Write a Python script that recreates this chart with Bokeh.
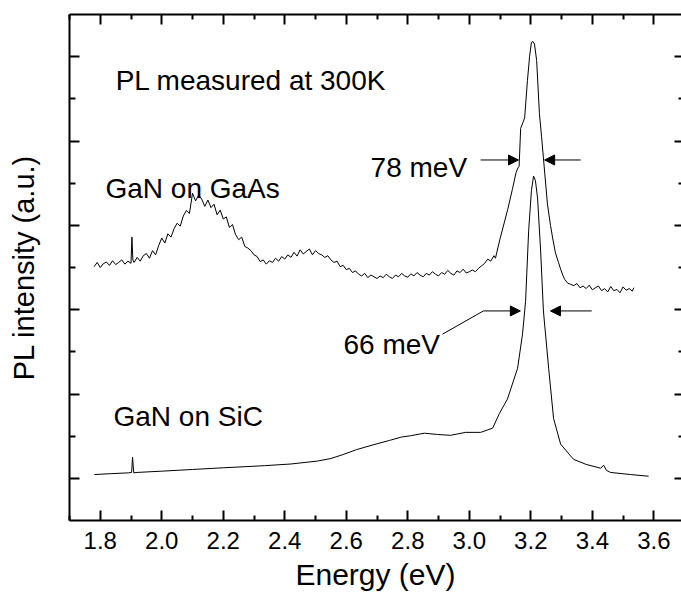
from bokeh.plotting import figure
from bokeh.models import (LinearAxis, FixedTicker, PrintfTickFormatter, Range1d,
                          Arrow, NormalHead, Label, CustomJSTickFormatter)
from bokeh.embed import file_html
from bokeh.resources import INLINE

FONT = "Liberation Sans"

# ---- data ----
gaas_energy = [
    1.78, 1.79, 1.80, 1.81, 1.82, 1.83, 1.84, 1.85, 1.86, 1.87,
    1.88, 1.89, 1.90, 1.903, 1.906, 1.91, 1.92, 1.93, 1.94, 1.95,
    1.96, 1.97, 1.98, 1.99, 2.00, 2.01, 2.02, 2.03, 2.04, 2.05,
    2.06, 2.07, 2.08, 2.09, 2.10, 2.11, 2.12, 2.13, 2.14, 2.15,
    2.16, 2.17, 2.18, 2.19, 2.20, 2.21, 2.22, 2.23, 2.24, 2.25,
    2.26, 2.27, 2.28, 2.29, 2.30, 2.31, 2.32, 2.33, 2.34, 2.35,
    2.36, 2.37, 2.38, 2.39, 2.40, 2.41, 2.42, 2.43, 2.44, 2.45,
    2.46, 2.47, 2.48, 2.49, 2.50, 2.51, 2.52, 2.53, 2.54, 2.55,
    2.56, 2.57, 2.58, 2.59, 2.60, 2.61, 2.62, 2.63, 2.64, 2.65,
    2.66, 2.67, 2.68, 2.69, 2.70, 2.71, 2.72, 2.73, 2.74, 2.75,
    2.76, 2.77, 2.78, 2.79, 2.80, 2.81, 2.82, 2.83, 2.84, 2.85,
    2.86, 2.87, 2.88, 2.89, 2.90, 2.91, 2.92, 2.93, 2.94, 2.95,
    2.96, 2.97, 2.98, 2.99, 3.00, 3.01, 3.02, 3.03, 3.04, 3.05,
    3.06, 3.07, 3.08, 3.085, 3.10, 3.115, 3.125, 3.14, 3.152, 3.158,
    3.162, 3.167, 3.175, 3.180, 3.189, 3.196, 3.202, 3.207, 3.212, 3.219,
    3.228, 3.235, 3.241, 3.254, 3.264, 3.271, 3.280, 3.290, 3.297, 3.305,
    3.31, 3.32, 3.33, 3.34, 3.35, 3.36, 3.37, 3.38, 3.39, 3.40,
    3.41, 3.42, 3.43, 3.44, 3.45, 3.46, 3.47, 3.48, 3.49, 3.50,
    3.51, 3.52, 3.53, 3.535]
gaas_pl = [
    6.02, 6.12, 6.00, 6.09, 6.13, 6.05, 6.16, 6.07, 6.12, 6.18,
    6.08, 6.15, 6.10, 6.72, 6.18, 6.12, 6.24, 6.15, 6.28, 6.33,
    6.22, 6.40, 6.30, 6.52, 6.70, 6.58, 6.80, 6.72, 6.92, 7.05,
    6.98, 7.22, 7.35, 7.28, 7.76, 7.58, 7.72, 7.62, 7.45, 7.60,
    7.42, 7.50, 7.25, 7.36, 7.15, 7.20, 6.95, 7.02, 6.78, 6.66,
    6.72, 6.50, 6.46, 6.40, 6.30, 6.26, 6.14, 6.18, 6.08, 6.16,
    6.12, 6.22, 6.15, 6.26, 6.20, 6.30, 6.24, 6.36, 6.27, 6.42,
    6.32, 6.38, 6.44, 6.30, 6.40, 6.33, 6.30, 6.24, 6.28, 6.18,
    6.12, 6.15, 6.02, 6.05, 5.95, 5.98, 5.88, 5.92, 5.84, 5.80,
    5.86, 5.76, 5.82, 5.78, 5.74, 5.80, 5.76, 5.84, 5.78, 5.74,
    5.82, 5.78, 5.86, 5.80, 5.77, 5.85, 5.80, 5.88, 5.82, 5.78,
    5.86, 5.82, 5.90, 5.84, 5.80, 5.88, 5.84, 5.93, 5.86, 5.82,
    5.92, 5.88, 5.96, 5.87, 5.90, 5.94, 5.90, 5.98, 6.04, 6.10,
    6.20, 6.15, 6.28, 6.22, 6.68, 7.10, 7.38, 7.85, 8.25, 8.36,
    8.40, 9.30, 9.45, 9.55, 10.43, 11.00, 11.34, 11.36, 11.30, 10.91,
    9.65, 9.10, 8.60, 7.51, 7.00, 6.70, 6.35, 6.12, 5.96, 5.80,
    5.72, 5.63, 5.60, 5.57, 5.62, 5.52, 5.56, 5.50, 5.58, 5.47,
    5.52, 5.56, 5.45, 5.50, 5.42, 5.55, 5.45, 5.48, 5.40, 5.54,
    5.46, 5.50, 5.44, 5.52]

sic_energy = [
    1.781, 1.833, 1.892, 1.902, 1.905, 1.909, 1.92, 2.00, 2.10, 2.20,
    2.334, 2.42, 2.507, 2.55, 2.588, 2.633, 2.69, 2.741, 2.78, 2.809,
    2.854, 2.897, 2.939, 2.988, 3.037, 3.076, 3.098, 3.124, 3.157, 3.173,
    3.183, 3.193, 3.202, 3.209, 3.215, 3.222, 3.232, 3.241, 3.258, 3.274,
    3.297, 3.339, 3.38, 3.427, 3.437, 3.446, 3.459, 3.524, 3.583]
sic_pl = [
    1.09, 1.11, 1.13, 1.14, 1.50, 1.13, 1.14, 1.17, 1.21, 1.25,
    1.30, 1.34, 1.41, 1.47, 1.56, 1.68, 1.80, 1.90, 1.98, 2.01,
    2.07, 2.04, 2.02, 2.09, 2.09, 2.19, 2.54, 2.88, 3.61, 4.42,
    5.20, 6.87, 7.82, 8.17, 8.06, 7.65, 6.39, 4.97, 3.61, 2.42,
    1.81, 1.45, 1.33, 1.24, 1.31, 1.19, 1.14, 1.09, 1.05]

x_major = [1.8, 2.0, 2.2, 2.4, 2.6, 2.8, 3.0, 3.2, 3.4, 3.6]
x_minor = [1.7, 1.9, 2.1, 2.3, 2.5, 2.7, 2.9, 3.1, 3.3, 3.5, 3.7]
y_major = [1, 3, 5, 7, 9, 11]
y_minor = [2, 4, 6, 8, 10]

# annotation texts and positions (data units)
note_text = ["PL measured at 300K", "GaN on GaAs", "GaN on SiC", "78 meV", "66 meV"]
note_x = [1.850, 1.817, 1.843, 2.679, 2.591]
note_y = [10.43, 7.87, 2.47, 8.36, 4.18]

arrow_x0 = [3.037, 3.362, 3.046, 3.398]
arrow_x1 = [3.160, 3.245, 3.166, 3.264]
arrow_y = [8.55, 8.55, 4.97, 4.97]
leader_x = [2.913, 3.046]
leader_y = [4.42, 4.97]

p = figure(width=681, height=593,
           x_range=Range1d(1.7, 3.69), y_range=Range1d(0, 12),
           output_backend="svg", toolbar_location=None,
           x_axis_location=None, y_axis_location=None,
           min_border_left=69, min_border_right=0, min_border_top=14, min_border_bottom=0,
           background_fill_color="white", border_fill_color="white")
p.outline_line_color = None
p.xgrid.grid_line_color = None
p.ygrid.grid_line_color = None

def style_axis(ax, tin, min_in, labels=False):
    ax.axis_line_width = 2
    ax.axis_line_color = "black"
    ax.major_tick_in = tin
    ax.major_tick_out = 0
    ax.minor_tick_in = min_in
    ax.minor_tick_out = 0
    ax.major_tick_line_width = 2
    ax.minor_tick_line_width = 2
    ax.major_tick_line_color = "black"
    ax.minor_tick_line_color = "black"
    if not labels:
        ax.formatter = CustomJSTickFormatter(code="return ''")
        ax.major_label_text_font_size = "1px"
        ax.major_label_standoff = 0

xt = FixedTicker(ticks=x_major, minor_ticks=x_minor)
yt = FixedTicker(ticks=y_major, minor_ticks=y_minor)

bottom = LinearAxis(ticker=xt, formatter=PrintfTickFormatter(format="%.1f"),
                    axis_label="Energy (eV)")
style_axis(bottom, 10, 5, labels=True)
bottom.major_label_text_font = FONT
bottom.major_label_text_font_size = "24px"
bottom.major_label_text_color = "black"
bottom.major_label_standoff = 11
bottom.axis_label_text_font = FONT
bottom.axis_label_text_font_size = "30px"
bottom.axis_label_text_font_style = "normal"
bottom.axis_label_text_color = "black"
bottom.axis_label_standoff = 6
p.add_layout(bottom, "below")

top = LinearAxis(ticker=xt)
style_axis(top, 10, 5)
p.add_layout(top, "above")

left = LinearAxis(ticker=yt, axis_label="PL intensity (a.u.)")
style_axis(left, 10, 6)
left.axis_label_text_font = FONT
left.axis_label_text_font_size = "29px"
left.axis_label_text_font_style = "normal"
left.axis_label_text_color = "black"
left.axis_label_standoff = 30
p.add_layout(left, "left")

right = LinearAxis(ticker=yt)
style_axis(right, 7, 3)
right.axis_line_color = None
p.add_layout(right, "right")

p.line(gaas_energy, gaas_pl, line_color="black", line_width=1)
p.line(sic_energy, sic_pl, line_color="black", line_width=1)

for t, x, y in zip(note_text, note_x, note_y):
    p.add_layout(Label(x=x, y=y, text=t, text_font=FONT, text_font_size="28px",
                       text_color="black", text_baseline="alphabetic"))

p.line(leader_x, leader_y, line_color="black", line_width=1)
for x0, x1, y in zip(arrow_x0, arrow_x1, arrow_y):
    p.add_layout(Arrow(end=NormalHead(size=10, fill_color="black", line_color="black"),
                       x_start=x0, y_start=y, x_end=x1, y_end=y,
                       line_color="black", line_width=1))

open("out.html", "w").write(file_html(p, INLINE))
